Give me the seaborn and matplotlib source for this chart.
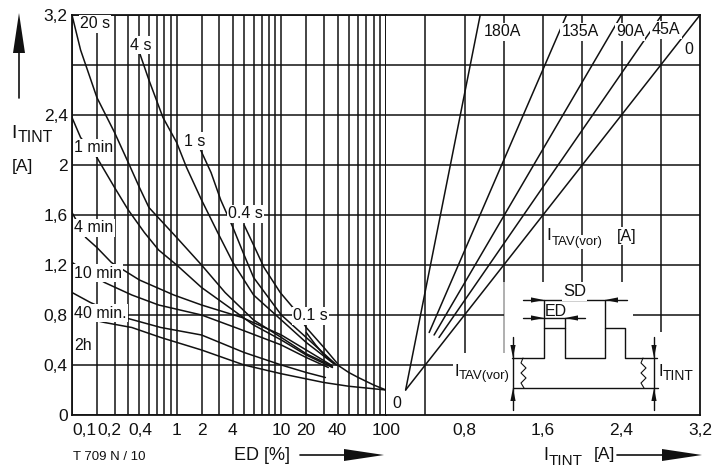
import numpy as np
import pandas as pd
import matplotlib
matplotlib.use("Agg")
import matplotlib.pyplot as plt
import seaborn as sns

# ---------------- data ----------------
# Left panel: permissible current I_TINT [A] versus duty cycle ED [%]
ed_01s = [20, 25, 31, 39]
i_01s = [0.66, 0.56, 0.47, 0.40]
ed_04s = [5, 6, 7.3, 9.8, 15, 20, 30, 40]
i_04s = [1.52, 1.36, 1.18, 0.98, 0.84, 0.70, 0.54, 0.41]
ed_1s = [1.9, 2.5, 3.1, 4, 5, 6, 10, 20, 38]
i_1s = [2.14, 1.94, 1.72, 1.50, 1.28, 1.10, 0.80, 0.62, 0.41]
ed_4s = [0.5, 0.6, 0.78, 1.0, 1.35, 2.0, 2.9, 4, 6, 10, 20, 37]
i_4s = [2.90, 2.68, 2.38, 2.18, 1.98, 1.72, 1.46, 1.22, 0.96, 0.76, 0.58, 0.41]
ed_20s = [0.1, 0.13, 0.2, 0.3, 0.4, 0.5, 0.6, 1.0, 2.0, 3.4, 6, 10, 20, 36]
i_20s = [3.2, 2.92, 2.54, 2.26, 2.02, 1.82, 1.66, 1.42, 1.20, 0.98, 0.76, 0.62, 0.49, 0.39]
ed_1min = [0.1, 0.13, 0.2, 0.3, 0.4, 0.55, 0.72, 1.0, 2.0, 4, 6, 10, 20, 36]
i_1min = [2.38, 2.22, 2.06, 1.82, 1.64, 1.46, 1.32, 1.20, 1.02, 0.84, 0.72, 0.60, 0.48, 0.38]
ed_4min = [0.1, 0.15, 0.2, 0.28, 0.5, 0.95, 2.0, 4.8, 10, 20, 35]
i_4min = [1.62, 1.42, 1.34, 1.22, 1.08, 0.96, 0.88, 0.78, 0.64, 0.52, 0.40]
ed_10min = [0.1, 0.24, 0.43, 0.72, 2.0, 4.8, 10, 20, 33]
i_10min = [1.22, 1.06, 0.96, 0.88, 0.80, 0.68, 0.56, 0.46, 0.38]
ed_40min = [0.1, 0.17, 0.37, 0.75, 2.0, 5, 10, 20, 31]
i_40min = [0.98, 0.90, 0.78, 0.70, 0.64, 0.50, 0.40, 0.34, 0.30]
ed_2h = [0.1, 0.24, 0.43, 0.75, 2.0, 5, 10, 30, 50, 100]
i_2h = [0.80, 0.74, 0.70, 0.62, 0.52, 0.40, 0.33, 0.26, 0.23, 0.20]
ed_cont = [40, 50, 60, 80, 100]
i_cont = [0.40, 0.34, 0.30, 0.24, 0.20]

# Right panel: conversion lines for pre-load current I_TAV(vor)
itav_names = ["0", "45A", "90A", "135A", "180A"]
x_0, y_0 = [0.2, 3.2], [0.2, 3.2]
x_45, y_45 = [0.54, 2.81], [0.62, 3.2]
x_90, y_90 = [0.49, 2.40], [0.64, 3.2]
x_135, y_135 = [0.44, 1.84], [0.66, 3.2]
x_180, y_180 = [0.2, 0.96], [0.2, 3.2]

# axes ticks
ed_ticks = [0.1, 0.2, 0.4, 1, 2, 4, 10, 20, 40, 100]
ed_ticklabels = ["0,1", "0,2", "0,4", "1", "2", "4", "10", "20", "40", "100"]
ed_grid = [0.1, 0.2, 0.3, 0.4, 0.5, 0.6, 0.7, 0.8, 0.9,
           1, 2, 3, 4, 5, 6, 7, 8, 9, 10, 20, 30, 40, 50, 60, 70, 80, 90, 100]
i_ticks = [0, 0.4, 0.8, 1.2, 1.6, 2.0, 2.4, 2.8, 3.2]
i_ticklabels = ["0", "0,4", "0,8", "1,2", "1,6", "2", "2,4", "", "3,2"]
itint_ticks = [0, 0.4, 0.8, 1.2, 1.6, 2.0, 2.4, 2.8, 3.2]
itint_ticklabels = ["", "", "0,8", "", "1,6", "", "2,4", "", "3,2"]

# ---------------- style ----------------
sns.set_theme(style="white")
plt.rcParams["font.family"] = ["Liberation Sans", "DejaVu Sans"]
INK = "#111111"
LW_GRID = 1.1
LW_CURVE = 1.1
TICK_FS = 12.5

W, H = 728, 468
fig = plt.figure(figsize=(W / 100, H / 100), dpi=100)
fig.patch.set_facecolor("white")

def fb(x0, y0, x1, y1):
    return [x0 / W, 1 - y1 / H, (x1 - x0) / W, (y1 - y0) / H]

ax1 = fig.add_axes(fb(72, 15, 386, 415))
ax2 = fig.add_axes(fb(386, 15, 700, 415), sharey=ax1)

# pseudo-logarithmic ED scale of the original diagram
C = 1.0
K = np.log((10 + C) / (1 + C))

def _fwd(x):
    x = np.clip(np.asarray(x, dtype=float), 1e-9, None)
    d = np.floor(np.log10(x) + 1e-9)
    m = x / 10.0 ** d
    return d + np.log((m + C) / (1 + C)) / K

def _inv(p):
    p = np.asarray(p, dtype=float)
    d = np.floor(p + 1e-12)
    f = p - d
    m = (1 + C) * np.exp(f * K) - C
    return m * 10.0 ** d

ax1.set_xscale("function", functions=(_fwd, _inv))

# ---------------- left panel ----------------
curves = [("0.1 s", ed_01s, i_01s), ("0.4 s", ed_04s, i_04s), ("1 s", ed_1s, i_1s),
          ("4 s", ed_4s, i_4s), ("20 s", ed_20s, i_20s), ("1 min", ed_1min, i_1min),
          ("4 min", ed_4min, i_4min), ("10 min", ed_10min, i_10min),
          ("40 min", ed_40min, i_40min), ("2h", ed_2h, i_2h), ("cont", ed_cont, i_cont)]
left_df = pd.concat([pd.DataFrame({"ED": e, "I": i, "curve": n}) for n, e, i in curves],
                    ignore_index=True)
sns.lineplot(data=left_df, x="ED", y="I", units="curve", estimator=None, sort=False,
             color=INK, lw=LW_CURVE, legend=False, ax=ax1, zorder=3)

ax1.set_xlim(0.1, 100)
ax1.set_ylim(0, 3.2)
ax1.set_xticks(ed_ticks)
ax1.set_xticklabels(ed_ticklabels)
ax1.set_xticks([g for g in ed_grid if g not in ed_ticks], minor=True)
ax1.set_yticks(i_ticks)
ax1.set_yticklabels(i_ticklabels)
ax1.tick_params(axis="both", which="both", length=0, labelsize=TICK_FS, colors=INK)
ax1.tick_params(axis="x", pad=6)
ax1.tick_params(axis="y", pad=3)
for k, lab in enumerate(ax1.get_xticklabels()):
    if k < 3:
        lab.set_horizontalalignment("left")
ax1.grid(True, which="both", axis="x", color=INK, lw=LW_GRID)
ax1.grid(True, which="major", axis="y", color=INK, lw=LW_GRID)
ax1.set_xlabel("")
ax1.set_ylabel("")
for s in ax1.spines.values():
    s.set_color(INK)
    s.set_linewidth(1.3)

# ---------------- right panel ----------------
right = [("0", x_0, y_0), ("45A", x_45, y_45), ("90A", x_90, y_90),
         ("135A", x_135, y_135), ("180A", x_180, y_180)]
right_df = pd.concat([pd.DataFrame({"IT": x, "I": y, "line": n}) for n, x, y in right],
                     ignore_index=True)
sns.lineplot(data=right_df, x="IT", y="I", units="line", estimator=None, sort=False,
             color=INK, lw=LW_CURVE, legend=False, ax=ax2, zorder=3)
ax2.set_xlim(0, 3.2)
ax2.set_xticks(itint_ticks)
ax2.set_xticklabels(itint_ticklabels)
ax2.tick_params(axis="x", direction="in", length=4, width=1, labelsize=TICK_FS, pad=6, colors=INK)
ax2.tick_params(axis="y", length=0, labelleft=False)
ax2.set_xlabel("")
ax2.set_ylabel("")
ax2.spines["left"].set_visible(False)
for s in ["top", "right", "bottom"]:
    ax2.spines[s].set_color(INK)
    ax2.spines[s].set_linewidth(1.3)

# partial grid of the right panel (interrupted by the inset sketch)
vgrid = [(0.4, 0.0), (0.8, 0.5), (1.2, 1.065), (1.6, 1.065), (2.0, 1.065), (2.4, 1.065), (2.8, 0.665)]
for xg, y0 in vgrid:
    ax2.vlines(xg, y0, 3.2, color=INK, lw=LW_GRID, zorder=1)
ax2.vlines(1.2, 0.5, 1.065, color="#9a9a9a", lw=LW_GRID, zorder=1)
for yg in [1.2, 1.6, 2.0, 2.4, 2.8]:
    ax2.hlines(yg, 0, 3.2, color=INK, lw=LW_GRID, zorder=1)
ax2.hlines(0.8, 0, 1.2, color=INK, lw=LW_GRID, zorder=1)
ax2.hlines(0.8, 2.52, 3.2, color=INK, lw=LW_GRID, zorder=1)
ax2.hlines(0.4, 0, 0.68, color=INK, lw=LW_GRID, zorder=1)

# ---------------- overlay in image pixels (labels, arrows, inset sketch) ----------------
ov = fig.add_axes([0, 0, 1, 1], zorder=10)
ov.set_xlim(0, W)
ov.set_ylim(H, 0)
ov.axis("off")
ov.patch.set_alpha(0)

WB = dict(boxstyle="square,pad=0.08", fc="white", ec="none")

def txt(x, y, s, size=11.5, ha="left", va="center", box=True):
    ov.text(x, y, s, fontsize=size, ha=ha, va=va, color=INK,
            bbox=WB if box else None, zorder=12)

# curve labels
txt(80, 24, "20 s")
txt(130, 45, "4 s")
txt(184, 141, "1 s")
txt(228, 214, "0.4 s")
txt(293, 316, "0.1 s")
txt(74, 148, "1 min")
txt(74, 228, "4 min")
txt(74, 273, "10 min")
txt(74, 313, "40 min.")
txt(74, 346, "2h")
txt(392, 403, "0", box=False)

# right panel line labels
txt(502, 32, "180A", ha="center")
txt(580, 32, "135A", ha="center")
txt(630, 32, "90A", ha="center")
txt(666, 30, "45A", ha="center")
txt(684, 50, "0", box=False)

# I_TAV(vor) [A]
ov.text(546, 236, "I", fontsize=12.5, ha="left", va="center", color=INK, bbox=WB, zorder=12)
ov.text(552, 242, "TAV(vor)", fontsize=9.5, ha="left", va="center", color=INK, bbox=WB, zorder=12)
ov.text(617, 236, "[A]", fontsize=11.5, ha="left", va="center", color=INK, bbox=WB, zorder=12)

# axis titles
ov.text(11, 133, "I", fontsize=14, ha="left", va="center", color=INK, zorder=12)
ov.text(18, 138, "TINT", fontsize=11.5, ha="left", va="center", color=INK, zorder=12)
ov.text(12, 167, "[A]", fontsize=12.5, ha="left", va="center", color=INK, zorder=12)
ov.text(73, 457, "T 709 N / 10", fontsize=9.5, ha="left", va="center", color=INK, zorder=12)
ov.text(262, 455, "ED [%]", fontsize=13, ha="center", va="center", color=INK, zorder=12)
ov.text(543, 455, "I", fontsize=13, ha="left", va="center", color=INK, zorder=12)
ov.text(549, 461, "TINT", fontsize=11, ha="left", va="center", color=INK, zorder=12)
ov.text(594, 454, "[A]", fontsize=12.5, ha="left", va="center", color=INK, zorder=12)

# big arrows
def big_arrow_h(x0, x1, y, head=40, hw=6):
    ov.plot([x0, x1 - head + 1], [y, y], color=INK, lw=1.2, zorder=12)
    ov.fill([x1 - head, x1, x1 - head], [y - hw, y, y + hw], color=INK, lw=0, zorder=12)

big_arrow_h(300, 384, 455)
big_arrow_h(617, 702, 455)
ov.plot([19, 19], [98, 52], color=INK, lw=1.2, zorder=12)
ov.fill([13, 19, 25], [53, 13, 53], color=INK, lw=0, zorder=12)

# inset sketch: pulse train with dimensions
LWS = 1.0
ov.plot([512, 544, 544, 565, 565, 605, 605, 625, 625, 657],
        [358, 358, 328, 328, 358, 358, 328, 328, 358, 358], color=INK, lw=LWS, zorder=12)
ov.plot([513, 658], [388, 388], color=INK, lw=LWS, zorder=12)
ov.plot([544, 544], [300, 328], color=INK, lw=LWS, zorder=12)
ov.plot([565, 565], [318, 328], color=INK, lw=LWS, zorder=12)
ov.plot([605, 605], [300, 328], color=INK, lw=LWS, zorder=12)
ov.plot([523, 627], [300, 300], color=INK, lw=LWS, zorder=12)
ov.plot([523, 585], [318, 318], color=INK, lw=LWS, zorder=12)

def head(tx, ty, dx, dy, L=13, hw=2.6):
    bx, by = tx - dx * L, ty - dy * L
    px, py = -dy * hw, dx * hw
    ov.fill([tx, bx + px, bx - px], [ty, by + py, by - py], color=INK, lw=0, zorder=13)

head(544, 300, 1, 0)
head(605, 300, -1, 0)
head(544, 318, 1, 0)
head(565, 318, -1, 0)
for xd in (513, 654):
    ov.plot([xd, xd], [337, 410], color=INK, lw=LWS, zorder=12)
    head(xd, 358, 0, 1)
    head(xd, 388, 0, -1)
for xz in (523, 643):
    ov.plot([xz, xz - 2, xz + 3, xz - 2, xz + 3, xz - 2, xz + 1],
            [358, 363, 368, 373, 378, 383, 388], color=INK, lw=0.8, zorder=12)

txt(563, 292, "SD", size=12)
txt(545, 311, "ED", size=11.5, box=False)
ov.text(454, 371, "I", fontsize=12, ha="left", va="center", color=INK, zorder=12)
ov.text(459, 376, "TAV(vor)", fontsize=9.5, ha="left", va="center", color=INK, zorder=12)
ov.text(658, 371, "I", fontsize=12, ha="left", va="center", color=INK, zorder=12)
ov.text(663, 376, "TINT", fontsize=10, ha="left", va="center", color=INK, zorder=12)

fig.savefig("out.png", dpi=100, facecolor="white")
